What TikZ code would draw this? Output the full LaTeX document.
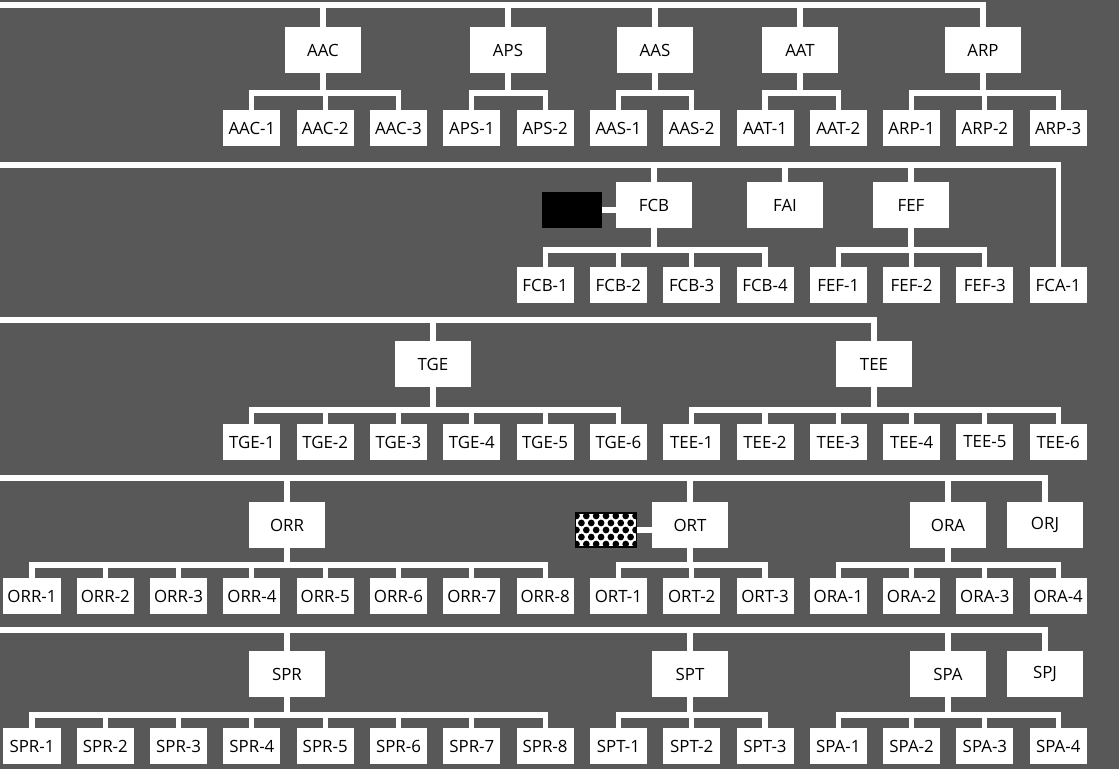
\documentclass[tikz,border=0pt]{standalone}
\usepackage{fontspec}
\setmainfont{Open Sans}
\usepackage{xcolor}
\usepackage{tikz}
\definecolor{scan}{RGB}{88,88,88}

\begin{document}
\begin{tikzpicture}[x=0.025cm, y=-0.025cm,
  wire/.style={draw=white, line width=3.6pt, line cap=rect},
  unit/.style={fill=white, minimum width=1.9cm, minimum height=1.15cm, inner sep=0pt, font=\fontsize{12}{14}\selectfont},
  sub/.style={fill=white, minimum width=1.425cm, minimum height=0.9cm, inner sep=0pt, font=\fontsize{12}{14}\selectfont}]
 \useasboundingbox (0,0) rectangle (1119,769);
 \fill [scan] (0,0) rectangle (1119,769);

 \coordinate (lineA) at (0,5);   \coordinate (busA) at (0,93);
 \coordinate (lineF) at (0,165); \coordinate (busF) at (0,250);
 \coordinate (lineT) at (0,320); \coordinate (busT) at (0,410);
 \coordinate (lineO) at (0,478); \coordinate (busO) at (0,565);
 \coordinate (lineS) at (0,630); \coordinate (busS) at (0,715);

 % A
 \node (AAC) at (323,50) [unit] {AAC};
 \node (APS) at (508,50) [unit] {APS};
 \node (AAS) at (655,50) [unit] {AAS};
 \node (AAT) at (800,50) [unit] {AAT};
 \node (ARP) at (983,50) [unit] {ARP};
 \foreach \k/\t in {3/AAC-1,4/AAC-2,5/AAC-3,6/APS-1,7/APS-2,8/AAS-1,9/AAS-2,10/AAT-1,11/AAT-2,12/ARP-1,13/ARP-2,14/ARP-3}
   \node (A\k) at ({32+73.3*\k},128) [sub] {\t};
 \draw [wire] (lineA) -| (ARP.north);
 \foreach \p in {AAC,APS,AAS,AAT} \draw [wire] (\p.north) -- (\p.north |- lineA);
 \foreach \p in {AAC,APS,AAS,AAT,ARP} \draw [wire] (\p.south) -- (\p.south |- busA);
 \foreach \k in {3,...,14} \draw [wire] (A\k.north) -- (A\k.north |- busA);
 \foreach \a/\b in {3/5,6/7,8/9,10/11,12/14} \draw [wire] (A\a.north |- busA) -- (A\b.north |- busA);

 % F
 \node (FCB) at (654,205) [unit] {FCB};
 \node (FAI) at (785,205) [unit] {FAI};
 \node (FEF) at (911,205) [unit] {FEF};
 \node (blk) at (572,210) [fill=black, minimum width=1.475cm, minimum height=0.875cm, inner sep=0pt] {};
 \foreach \k/\t in {7/FCB-1,8/FCB-2,9/FCB-3,10/FCB-4,11/FEF-1,12/FEF-2,13/FEF-3,14/FCA-1}
   \node (F\k) at ({32+73.3*\k},285) [sub] {\t};
 \draw [wire] (lineF) -| (F14.north);
 \foreach \p in {FCB,FAI,FEF} \draw [wire] (\p.north) -- (\p.north |- lineF);
 \foreach \p in {FCB,FEF} \draw [wire] (\p.south) -- (\p.south |- busF);
 \foreach \k in {7,...,13} \draw [wire] (F\k.north) -- (F\k.north |- busF);
 \foreach \a/\b in {7/10,11/13} \draw [wire] (F\a.north |- busF) -- (F\b.north |- busF);
 \draw [wire, line cap=butt] (blk.east) -- (blk.east -| FCB.west);

 % T
 \node (TGE) at (433,364) [unit] {TGE};
 \node (TEE) at (874,364) [unit] {TEE};
 \foreach \k/\t in {3/TGE-1,4/TGE-2,5/TGE-3,6/TGE-4,7/TGE-5,8/TGE-6,9/TEE-1,10/TEE-2,11/TEE-3,12/TEE-4,13/TEE-5,14/TEE-6}
   \node (T\k) at ({32+73.3*\k},442) [sub] {\t};
 \draw [wire] (lineT) -| (TEE.north);
 \draw [wire] (TGE.north) -- (TGE.north |- lineT);
 \foreach \p in {TGE,TEE} \draw [wire] (\p.south) -- (\p.south |- busT);
 \foreach \k in {3,...,14} \draw [wire] (T\k.north) -- (T\k.north |- busT);
 \foreach \a/\b in {3/8,9/14} \draw [wire] (T\a.north |- busT) -- (T\b.north |- busT);

 % O
 \node (ORR) at (287,525) [unit] {ORR};
 \node (ORT) at (690,525) [unit] {ORT};
 \node (ORA) at (948,525) [unit] {ORA};
 \node (ORJ) at (1045,525) [unit] {ORJ};
 \node (chk) at (606,530) [fill=white, draw=black, line width=1.2pt, minimum width=1.525cm, minimum height=0.85cm, inner sep=0pt,
   path picture={\foreach \j in {0,...,4} \foreach \i in {0,...,6}
     \fill [black] ([xshift={(\i+0.5*mod(\j,2))*7pt-21pt}, yshift={\j*5pt-10pt}]path picture bounding box.center) circle (2.4pt);}] {};
 \foreach \k/\t in {0/ORR-1,1/ORR-2,2/ORR-3,3/ORR-4,4/ORR-5,5/ORR-6,6/ORR-7,7/ORR-8,8/ORT-1,9/ORT-2,10/ORT-3,11/ORA-1,12/ORA-2,13/ORA-3,14/ORA-4}
   \node (O\k) at ({32+73.3*\k},596) [sub] {\t};
 \draw [wire] (lineO) -| (ORJ.north);
 \foreach \p in {ORR,ORT,ORA} \draw [wire] (\p.north) -- (\p.north |- lineO);
 \foreach \p in {ORR,ORT,ORA} \draw [wire] (\p.south) -- (\p.south |- busO);
 \foreach \k in {0,...,14} \draw [wire] (O\k.north) -- (O\k.north |- busO);
 \foreach \a/\b in {0/7,8/10,11/14} \draw [wire] (O\a.north |- busO) -- (O\b.north |- busO);
 \draw [wire, line cap=butt] (chk.east) -- (chk.east -| ORT.west);

 % S
 \node (SPR) at (287,674) [unit] {SPR};
 \node (SPT) at (690,674) [unit] {SPT};
 \node (SPA) at (948,674) [unit] {SPA};
 \node (SPJ) at (1045,674) [unit] {SPJ};
 \foreach \k/\t in {0/SPR-1,1/SPR-2,2/SPR-3,3/SPR-4,4/SPR-5,5/SPR-6,6/SPR-7,7/SPR-8,8/SPT-1,9/SPT-2,10/SPT-3,11/SPA-1,12/SPA-2,13/SPA-3,14/SPA-4}
   \node (S\k) at ({32+73.3*\k},746) [sub] {\t};
 \draw [wire] (lineS) -| (SPJ.north);
 \foreach \p in {SPR,SPT,SPA} \draw [wire] (\p.north) -- (\p.north |- lineS);
 \foreach \p in {SPR,SPT,SPA} \draw [wire] (\p.south) -- (\p.south |- busS);
 \foreach \k in {0,...,14} \draw [wire] (S\k.north) -- (S\k.north |- busS);
 \foreach \a/\b in {0/7,8/10,11/14} \draw [wire] (S\a.north |- busS) -- (S\b.north |- busS);
\end{tikzpicture}
\end{document}
